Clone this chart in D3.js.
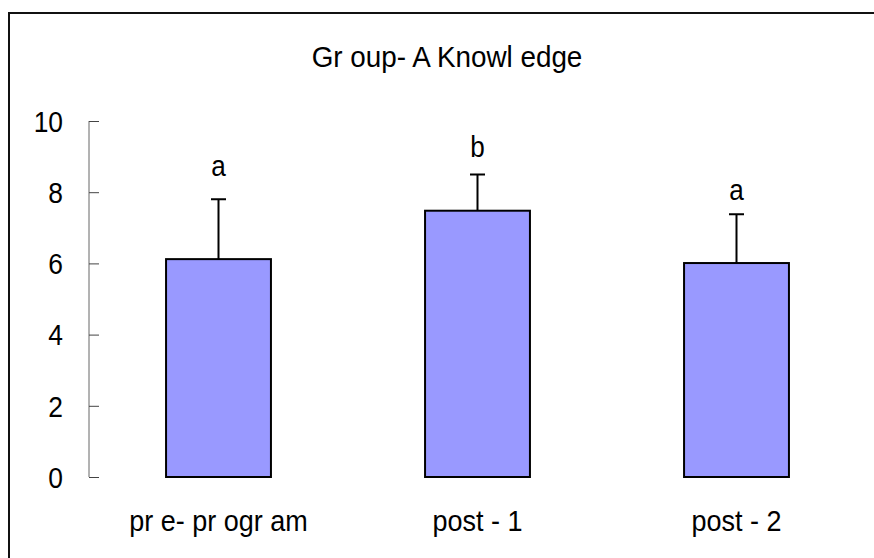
<!DOCTYPE html>
<html>
<head>
<meta charset="utf-8">
<script src="https://d3js.org/d3.v7.min.js"></script>
<style>
  body { margin: 0; background: #fff; }
  text { font-family: "Liberation Sans", Arial, sans-serif; fill: #000; }
</style>
</head>
<body>
<div class="chart"></div>
<script>
var svgWidth = 874;
var svgHeight = 558;

// data
var categories = ["pr e- pr ogr am", "post - 1", "post - 2"];
var means = [6.12, 7.48, 6.01];
var errors = [1.68, 1.02, 1.37];
var letters = ["a", "b", "a"];
var letterLevels = [8.45, 9.0, 7.78]; // where each letter sits, in y units
var yTicks = [0, 2, 4, 6, 8, 10];
var title = "Gr oup- A  Knowl edge";

var margin = { top: 121, right: 8, bottom: 81, left: 89 };
var width = svgWidth - margin.left - margin.right;
var height = svgHeight - margin.top - margin.bottom;

var svg = d3.select(".chart")
  .append("svg")
  .attr("width", svgWidth)
  .attr("height", svgHeight);

// frame (right and bottom edges fall outside the picture)
svg.append("path")
  .attr("d", "M9,558 V13 H874")
  .attr("fill", "none")
  .attr("stroke", "#111")
  .attr("stroke-width", 2);

var chart = svg.append("g")
  .attr("transform", "translate(" + margin.left + "," + margin.top + ")");

var xScale = d3.scaleBand()
  .domain(categories)
  .range([0, width])
  .padding(0);

var yScale = d3.scaleLinear()
  .domain([0, 10])
  .range([height, 0]);

var barWidth = xScale.bandwidth() * 0.405;

// y axis, ticks pointing inward
var leftAxis = d3.axisRight(yScale)
  .tickValues(yTicks)
  .tickSize(10)
  .tickFormat("");

var yAxis = chart.append("g").call(leftAxis);
yAxis.select(".domain").attr("stroke", "#666").attr("d", "M0," + yScale(0) + "V" + yScale(10));
yAxis.selectAll(".tick line").attr("stroke", "#444");

chart.selectAll(".ylab")
  .data(yTicks)
  .enter().append("text")
    .attr("class", "ylab")
    .attr("transform", function(d) { return "translate(-26," + yScale(d) + ") scale(0.88,1)"; })
    .attr("dy", "0.36em")
    .attr("text-anchor", "end")
    .style("font-size", "30px")
    .text(function(d) { return d; });

// bars
chart.selectAll(".bar")
  .data(means)
  .enter().append("rect")
    .attr("class", "bar")
    .attr("x", function(d, i) { return xScale(categories[i]) + (xScale.bandwidth() - barWidth) / 2; })
    .attr("y", function(d) { return yScale(d); })
    .attr("width", barWidth)
    .attr("height", function(d) { return yScale(0) - yScale(d); })
    .attr("fill", "#9999ff")
    .attr("stroke", "#000")
    .attr("stroke-width", 2);

// error bars (upper only)
var cx = function(i) { return xScale(categories[i]) + xScale.bandwidth() / 2; };

chart.selectAll(".err")
  .data(means)
  .enter().append("path")
    .attr("class", "err")
    .attr("d", function(d, i) {
      var top = yScale(d + errors[i]);
      return "M" + cx(i) + "," + yScale(d) + "V" + top +
        "M" + (cx(i) - 7.5) + "," + top + "H" + (cx(i) + 7.5);
    })
    .attr("fill", "none")
    .attr("stroke", "#000")
    .attr("stroke-width", 2);

// significance letters
chart.selectAll(".sig")
  .data(letters)
  .enter().append("text")
    .attr("class", "sig")
    .attr("transform", function(d, i) { return "translate(" + cx(i) + "," + yScale(letterLevels[i]) + ") scale(0.9,1)"; })
    .attr("text-anchor", "middle")
    .style("font-size", "29px")
    .text(function(d) { return d; });

// category labels, condensed like the original
chart.selectAll(".xlab")
  .data(categories)
  .enter().append("text")
    .attr("class", "xlab")
    .attr("transform", function(d, i) { return "translate(" + cx(i) + "," + (height + 54) + ") scale(0.9,1)"; })
    .attr("text-anchor", "middle")
    .style("font-size", "30px")
    .text(function(d) { return d; });

// title
svg.append("text")
  .attr("transform", "translate(447,67) scale(0.96,1)")
  .attr("text-anchor", "middle")
  .style("font-size", "29px")
  .text(title);
</script>
</body>
</html>
